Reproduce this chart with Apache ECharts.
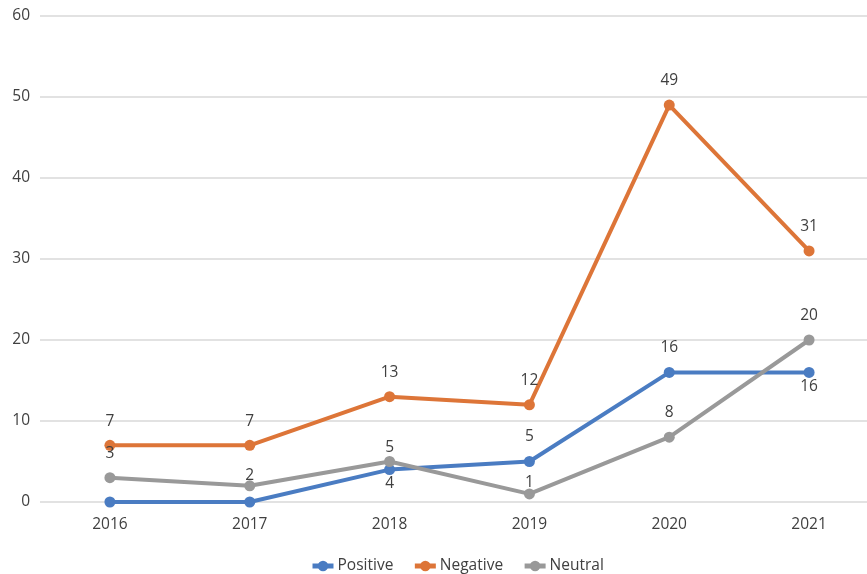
<!DOCTYPE html>
<html>
<head>
<meta charset="utf-8">
<style>
  html, body { margin: 0; padding: 0; background: #fff; }
  #chart { width: 867px; height: 574px; }
</style>
<script src="https://cdn.jsdelivr.net/npm/echarts@6/dist/echarts.min.js"></script>
</head>
<body>
<div id="chart"></div>
<script>
// Yearly counts by sentiment
const years = ['2016', '2017', '2018', '2019', '2020', '2021'];
const positive = [0, 0, 4, 5, 16, 16];
const negative = [7, 7, 13, 12, 49, 31];
const neutral = [3, 2, 5, 1, 8, 20];
const yTicks = [0, 10, 20, 30, 40, 50, 60];

const FONT = 'Open Sans';
const TEXT = '#404040';
const FS = 15.5;

// label placement for each point: [position, distance]; hidden where value is 0
function labelled(values, placement) {
  return values.map((v, i) => {
    const p = placement[i];
    return {
      value: v,
      label: p ? { show: true, position: p[0], distance: p[1] } : { show: false }
    };
  });
}

const chart = echarts.init(document.getElementById('chart'));

const baseLabel = {
  show: true,
  color: TEXT,
  fontFamily: FONT,
  fontSize: FS
};

function lineSeries(name, color, data) {
  return {
    name: name,
    type: 'line',
    data: data,
    symbol: 'circle',
    symbolSize: 11,
    lineStyle: { width: 4, color: color },
    itemStyle: { color: color },
    label: baseLabel,
    animation: false
  };
}

chart.setOption({
  backgroundColor: '#ffffff',
  textStyle: { fontFamily: FONT },
  grid: {
    left: 40, top: 16, width: 839, height: 486,
    containLabel: false,
    outerBoundsMode: 'none'
  },
  xAxis: {
    type: 'category',
    data: years,
    boundaryGap: true,
    axisLine: { show: false },
    axisTick: { show: false },
    axisLabel: { color: TEXT, fontFamily: FONT, fontSize: FS, margin: 15 }
  },
  yAxis: {
    type: 'value',
    min: yTicks[0],
    max: yTicks[yTicks.length - 1],
    interval: 10,
    axisLine: { show: false },
    axisTick: { show: false },
    axisLabel: { color: TEXT, fontFamily: FONT, fontSize: FS, margin: 10 },
    splitLine: { lineStyle: { color: '#d9d9d9', width: 1.5 } }
  },
  legend: {
    top: 553,
    left: 305,
    itemWidth: 21,
    itemHeight: 13,
    itemGap: 19,
    lineStyle: { width: 5 },
    textStyle: { color: TEXT, fontFamily: FONT, fontSize: FS, padding: [0, 0, 0, -1] },
    data: ['Positive', 'Negative', 'Neutral']
  },
  series: [
    lineSeries('Positive', '#4a7cc2',
      labelled(positive, [null, null, ['bottom', 0], ['top', 11], ['top', 11], ['bottom', 0.5]])),
    lineSeries('Negative', '#dd7538',
      labelled(negative, [['top', 10], ['top', 10], ['top', 11], ['top', 11], ['top', 11], ['top', 11]])),
    lineSeries('Neutral', '#999999',
      labelled(neutral, [['top', 11], ['top', -3], ['top', 0], ['top', -2.5], ['top', 11], ['top', 11]]))
  ]
});
</script>
</body>
</html>
